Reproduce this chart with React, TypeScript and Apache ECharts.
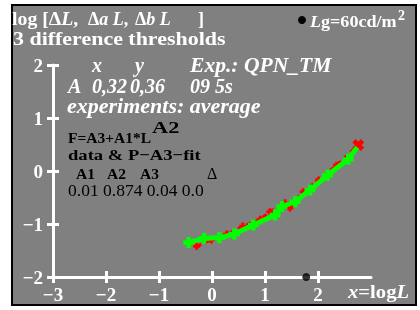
import React, { useEffect, useRef } from "react";
import * as echarts from "echarts";

const xTicks = [-3, -2, -1, 0, 1, 2];
const yTicks = [-2, -1, 0, 1, 2];
const greenX = [-0.44, -0.15, 0.14, 0.42, 0.78, 1.19, 1.32, 1.57, 1.85, 2.18, 2.57, 2.74];
const greenY = [-1.35, -1.27, -1.26, -1.19, -1.02, -0.83, -0.67, -0.58, -0.36, -0.08, 0.22, 0.45];
const redX = [-0.29, -0.01, 0.28, 0.58, 0.91, 1.09, 1.38, 1.47, 1.72, 2.01, 2.35, 2.76];
const redY = [-1.42, -1.3, -1.19, -1.04, -0.91, -0.77, -0.6, -0.7, -0.39, -0.17, 0.11, 0.49];
const adaptX = [1.778];
const adaptY = [-2];

const SERIF = "'Liberation Serif', 'DejaVu Serif', serif";
const PLUS = "path://M3,0H7V3H10V7H7V10H3V7H0V3H3Z";
const minus = (v: number) => String(v).replace("-", "\u2212");

export default function App() {
  const ref = useRef<HTMLDivElement>(null);
  useEffect(() => {
    const chart = echarts.init(ref.current!, null, { renderer: "svg" });
    const W = "#ffffff";
    const K = "#000000";
    const ital = (size: number) => ({
      fontStyle: "italic",
      fontWeight: "bold",
      fontSize: size,
      fontFamily: SERIF,
      fill: W,
    });
    const txt = (x: number, y: number, text: string, o: any = {}) => ({
      type: "text",
      x,
      y,
      scaleX: o.sx || 1,
      z: 50,
      style: {
        text,
        fill: o.fill || W,
        font: `${o.italic ? "italic " : ""}${o.bold === false ? "" : "bold "}${o.size || 18}px ${SERIF}`,
        align: "left",
        verticalAlign: "middle",
        rich: o.rich,
      },
    });
    const greenData = greenX.map((x, i) =>
      i === greenX.length - 1 ? { value: [x, greenY[i]], symbol: "none" } : [x, greenY[i]]
    );
    const redData = redX.map((x, i) =>
      i === redX.length - 1
        ? { value: [x, redY[i]], symbolSize: 12, symbolRotate: 45 }
        : [x, redY[i]]
    );
    const tickStyle = { color: W, width: 3 };
    const labelStyle = {
      color: W,
      fontFamily: SERIF,
      fontWeight: "bold",
      fontSize: 19,
      formatter: minus,
    };
    chart.setOption({
      animation: false,
      grid: { left: 53, right: 49, top: 65, bottom: 33, containLabel: false },
      xAxis: [
        {
          type: "value",
          min: -3,
          max: 3,
          interval: 1,
          axisLine: { show: true, onZero: false, lineStyle: { color: W, width: 3 } },
          axisTick: { show: true, length: 6, customValues: xTicks, lineStyle: tickStyle },
          axisLabel: { ...labelStyle, customValues: xTicks, margin: 8 },
          splitLine: { show: false },
        },
        {
          type: "value",
          min: -3,
          max: 3,
          interval: 1,
          position: "bottom",
          offset: 0,
          axisLine: { show: false, onZero: false },
          axisTick: { show: true, inside: true, length: 6, customValues: xTicks, lineStyle: tickStyle },
          axisLabel: { show: false },
          splitLine: { show: false },
        },
      ],
      yAxis: [
        {
          type: "value",
          min: -2,
          max: 2,
          interval: 1,
          axisLine: { show: true, onZero: false, lineStyle: { color: W, width: 3 } },
          axisTick: { show: true, length: 6, customValues: yTicks, lineStyle: tickStyle },
          axisLabel: { ...labelStyle, customValues: yTicks, margin: 10 },
          splitLine: { show: false },
        },
        {
          type: "value",
          min: -2,
          max: 2,
          interval: 1,
          position: "left",
          offset: 0,
          axisLine: { show: false, onZero: false },
          axisTick: { show: true, inside: true, length: 6, customValues: yTicks, lineStyle: tickStyle },
          axisLabel: { show: false },
          splitLine: { show: false },
        },
      ],
      series: [
        {
          type: "line",
          data: redData,
          symbol: PLUS,
          symbolSize: 7,
          showAllSymbol: true,
          lineStyle: { color: "#ff0000", width: 3, type: [5, 4] },
          itemStyle: { color: "#ff0000" },
          z: 3,
        },
        {
          type: "line",
          data: greenData,
          symbol: PLUS,
          symbolSize: 11,
          showAllSymbol: true,
          lineStyle: { color: "#00ff00", width: 5 },
          itemStyle: { color: "#00ff00" },
          z: 4,
        },
        {
          type: "scatter",
          data: adaptX.map((x, i) => [x, adaptY[i]]),
          symbol: "circle",
          symbolSize: 8,
          itemStyle: { color: K },
          z: 6,
        },
      ],
      graphic: [
        {
          type: "rect",
          z: -100,
          shape: { x: 12, y: 5, width: 404, height: 300 },
          style: { fill: "#808080", stroke: K, lineWidth: 2 },
        },
        txt(12, 19, "log [\u0394{i|L},", { sx: 1.1, rich: { i: ital(18) } }),
        txt(88, 19, "\u0394{i|a} {i|L},", { rich: { i: ital(18) } }),
        txt(135, 19, "\u0394{i|b} {i|L}", { rich: { i: ital(18) } }),
        txt(198, 19, "]"),
        txt(13, 39, "3 difference thresholds", { sx: 1.22 }),
        { type: "circle", z: 50, shape: { cx: 302, cy: 20, r: 4 }, style: { fill: K } },
        txt(310, 22, "{i|L}g=60cd/m", { size: 16, sx: 1.13, rich: { i: ital(16) } }),
        txt(398, 15, "2", { size: 14 }),
        txt(92, 65, "x", { italic: true, size: 20 }),
        txt(135, 65, "y", { italic: true, size: 20 }),
        txt(190, 65, "Exp.: QPN_TM", { italic: true, size: 20, sx: 1.08 }),
        txt(68, 86, "A", { italic: true, size: 20 }),
        txt(92, 86, "0,32", { italic: true, size: 20 }),
        txt(130, 86, "0,36", { italic: true, size: 20 }),
        txt(190, 86, "09", { italic: true, size: 20 }),
        txt(215, 86, "5s", { italic: true, size: 20 }),
        txt(67, 106, "experiments: average", { italic: true, size: 20, sx: 1.1 }),
        txt(68, 137, "F=A3+A1*L", { fill: K, size: 15.5 }),
        txt(152, 128, "A2", { fill: K, size: 16, sx: 1.4 }),
        txt(68, 155, "data & P\u2212A3\u2212fit", { fill: K, size: 15.5, sx: 1.2 }),
        txt(76, 173, "A1", { fill: K, size: 15.5 }),
        txt(107, 173, "A2", { fill: K, size: 15.5 }),
        txt(140, 173, "A3", { fill: K, size: 15.5 }),
        txt(207, 173, "\u0394", { fill: K, size: 16, bold: false }),
        txt(68, 190, "0.01 0.874 0.04 0.0", { fill: K, size: 17.5, bold: false }),
        txt(348, 292, "{i|x}=log{i|L}", { sx: 1.15, rich: { i: ital(18) } }),
      ],
    });
    return () => chart.dispose();
  }, []);
  return (
    <div
      ref={ref}
      style={{ position: "fixed", left: 0, top: 0, width: 420, height: 310 }}
    />
  );
}
